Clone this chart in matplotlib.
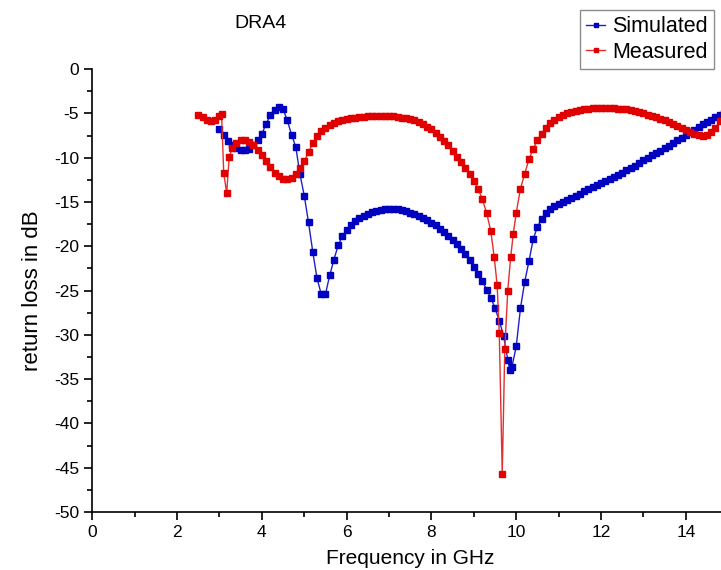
import matplotlib
matplotlib.use("Agg")
import matplotlib.pyplot as plt
from matplotlib.ticker import MultipleLocator

plt.rcParams["font.family"] = ["Liberation Sans", "DejaVu Sans"]
plt.rcParams["axes.unicode_minus"] = False

# Simulated return loss (GHz, dB)
sim_freq = [3.0, 3.1, 3.2, 3.3, 3.4, 3.5, 3.6, 3.7, 3.8, 3.9,
            4.0, 4.1, 4.2, 4.3, 4.4, 4.5, 4.6, 4.7, 4.8, 4.9,
            5.0, 5.1, 5.2, 5.3, 5.4, 5.5, 5.6, 5.7, 5.8, 5.9,
            6.0, 6.1, 6.2, 6.3, 6.4, 6.5, 6.6, 6.7, 6.8, 6.9,
            7.0, 7.1, 7.2, 7.3, 7.4, 7.5, 7.6, 7.7, 7.8, 7.9,
            8.0, 8.1, 8.2, 8.3, 8.4, 8.5, 8.6, 8.7, 8.8, 8.9,
            9.0, 9.1, 9.2, 9.3, 9.4, 9.5, 9.6, 9.7, 9.8, 9.85, 9.9,
            10.0, 10.1, 10.2, 10.3, 10.4, 10.5, 10.6, 10.7, 10.8, 10.9,
            11.0, 11.1, 11.2, 11.3, 11.4, 11.5, 11.6, 11.7, 11.8, 11.9,
            12.0, 12.1, 12.2, 12.3, 12.4, 12.5, 12.6, 12.7, 12.8, 12.9,
            13.0, 13.1, 13.2, 13.3, 13.4, 13.5, 13.6, 13.7, 13.8, 13.9,
            14.0, 14.1, 14.2, 14.3, 14.4, 14.5, 14.6, 14.7, 14.8, 14.9]
sim_db = [-6.8, -7.4, -8.1, -8.6, -8.95, -9.1, -9.15, -9.0, -8.6, -8.0,
          -7.3, -6.2, -5.2, -4.6, -4.3, -4.5, -5.8, -7.4, -8.8, -11.9,
          -14.3, -17.3, -20.6, -23.6, -25.4, -25.4, -23.3, -21.5, -19.9, -18.8,
          -18.2, -17.6, -17.2, -16.85, -16.6, -16.35, -16.15, -16.0, -15.9, -15.8,
          -15.75, -15.75, -15.8, -15.9, -16.0, -16.2, -16.4, -16.6, -16.8, -17.05,
          -17.35, -17.65, -18.0, -18.4, -18.8, -19.25, -19.75, -20.3, -20.9, -21.5,
          -22.3, -23.1, -23.9, -24.9, -25.8, -27.0, -28.4, -30.1, -32.8, -34.0, -33.6,
          -31.3, -27.0, -24.0, -21.7, -19.2, -17.8, -16.9, -16.3, -15.8, -15.5,
          -15.2, -15.0, -14.8, -14.55, -14.3, -14.05, -13.8, -13.55, -13.3, -13.1,
          -12.85, -12.6, -12.4, -12.2, -11.95, -11.7, -11.4, -11.15, -10.9, -10.6,
          -10.3, -10.05, -9.75, -9.5, -9.2, -8.95, -8.65, -8.35, -8.05, -7.75,
          -7.45, -7.15, -6.85, -6.55, -6.25, -5.95, -5.7, -5.45, -5.2, -4.95]

# Measured return loss (GHz, dB)
meas_freq = [2.5, 2.6, 2.7, 2.8, 2.9, 3.0, 3.05, 3.1, 3.17, 3.23,
             3.3, 3.4, 3.5, 3.6, 3.7, 3.8, 3.9, 4.0, 4.1, 4.2,
             4.3, 4.4, 4.5, 4.6, 4.7, 4.8, 4.9, 5.0, 5.1, 5.2,
             5.3, 5.4, 5.5, 5.6, 5.7, 5.8, 5.9, 6.0, 6.1, 6.2,
             6.3, 6.4, 6.5, 6.6, 6.7, 6.8, 6.9, 7.0, 7.1, 7.2,
             7.3, 7.4, 7.5, 7.6, 7.7, 7.8, 7.9, 8.0, 8.1, 8.2,
             8.3, 8.4, 8.5, 8.6, 8.7, 8.8, 8.9, 9.0, 9.1, 9.2,
             9.3, 9.4, 9.48, 9.55, 9.6, 9.67, 9.73, 9.8, 9.87, 9.93,
             10.0, 10.1, 10.2, 10.3, 10.4, 10.5, 10.6, 10.7, 10.8, 10.9,
             11.0, 11.1, 11.2, 11.3, 11.4, 11.5, 11.6, 11.7, 11.8, 11.9,
             12.0, 12.1, 12.2, 12.3, 12.4, 12.5, 12.6, 12.7, 12.8, 12.9,
             13.0, 13.1, 13.2, 13.3, 13.4, 13.5, 13.6, 13.7, 13.8, 13.9,
             14.0, 14.1, 14.2, 14.3, 14.4, 14.5, 14.6, 14.7, 14.8, 14.9]
meas_db = [-5.2, -5.4, -5.7, -5.9, -5.8, -5.3, -5.1, -11.7, -14.0, -9.9,
           -8.9, -8.3, -8.0, -8.0, -8.2, -8.6, -9.1, -9.7, -10.4, -11.1,
           -11.7, -12.1, -12.4, -12.45, -12.25, -11.9, -11.2, -10.4, -9.4, -8.4,
           -7.6, -7.0, -6.6, -6.3, -6.1, -5.9, -5.75, -5.65, -5.57, -5.5,
           -5.45, -5.4, -5.35, -5.32, -5.3, -5.28, -5.28, -5.3, -5.33, -5.4,
           -5.47, -5.55, -5.67, -5.8, -6.0, -6.2, -6.5, -6.8, -7.2, -7.7,
           -8.1, -8.6, -9.2, -9.9, -10.5, -11.2, -11.9, -12.6, -13.5, -14.7,
           -16.2, -18.3, -21.2, -24.4, -29.8, -45.7, -31.6, -25.0, -21.2, -18.6,
           -16.2, -13.5, -11.8, -10.2, -9.0, -8.0, -7.3, -6.6, -6.1, -5.7,
           -5.4, -5.2, -5.0, -4.85, -4.7, -4.6, -4.5, -4.45, -4.4, -4.37,
           -4.35, -4.37, -4.4, -4.42, -4.45, -4.5, -4.55, -4.65, -4.75, -4.87,
           -5.0, -5.15, -5.3, -5.45, -5.65, -5.8, -6.0, -6.2, -6.45, -6.65,
           -6.9, -7.1, -7.35, -7.45, -7.5, -7.4, -7.1, -6.6, -5.9, -5.2]

fig = plt.figure(figsize=(7.21, 5.70), dpi=100)
ax = fig.add_axes([0.128, 0.1018, 0.882, 0.777])

ax.plot(sim_freq, sim_db, color="#2020c8", lw=1, marker="s", ms=4.0,
        mec="#0000c0", mfc="#0000c0", label="Simulated")
ax.plot(meas_freq, meas_db, color="#e03030", lw=1, marker="s", ms=4.2,
        mec="#e00000", mfc="#e00000", label="Measured")

ax.set_xlim(0, 15)
ax.set_ylim(-50, 0)
ax.xaxis.set_major_locator(MultipleLocator(2))
ax.xaxis.set_minor_locator(MultipleLocator(1))
ax.yaxis.set_major_locator(MultipleLocator(5))
ax.yaxis.set_minor_locator(MultipleLocator(2.5))
ax.tick_params(which="major", direction="out", length=6, width=1.2, labelsize=12.5)
ax.tick_params(which="minor", direction="out", length=3.5, width=1.2)

ax.spines["top"].set_visible(False)
ax.spines["right"].set_visible(False)
ax.spines["left"].set_linewidth(1.2)
ax.spines["bottom"].set_linewidth(1.2)

ax.set_xlabel("Frequency in GHz", fontsize=15, labelpad=6)
ax.set_ylabel("return loss in dB", fontsize=16, labelpad=8)

fig.text(261 / 721, 1 - 24 / 570, "DRA4", fontsize=14, ha="center", va="center")

leg = fig.legend(loc="upper right", bbox_to_anchor=(714 / 721, 1 - 10 / 570),
                 fontsize=15.5, frameon=True, fancybox=False, handlelength=0.9,
                 handletextpad=0.3, borderpad=0.3, labelspacing=0.2,
                 borderaxespad=0, markerscale=0.6)
leg.get_frame().set_edgecolor("#707070")
leg.get_frame().set_linewidth(1.0)

fig.savefig("out.png", dpi=100)
